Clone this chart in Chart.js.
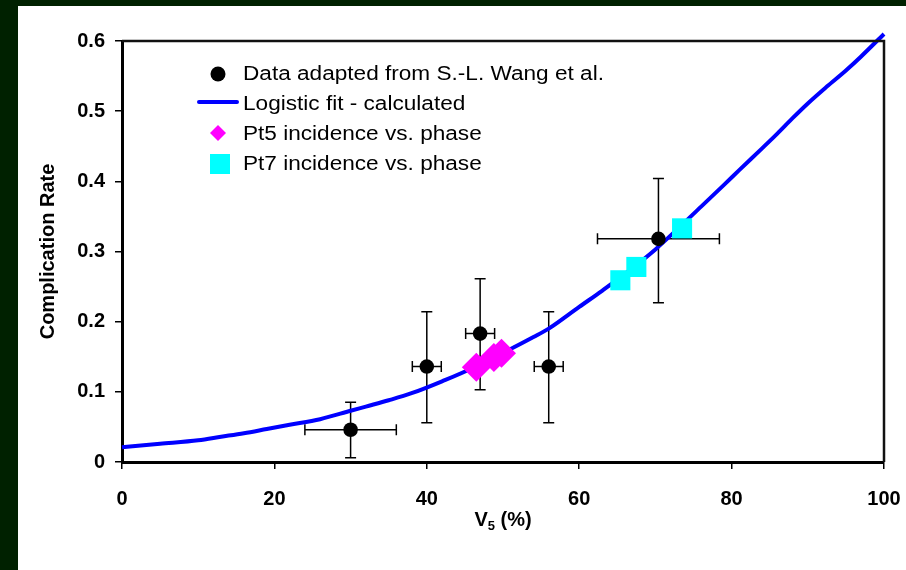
<!DOCTYPE html>
<html><head><meta charset="utf-8">
<script src="https://cdn.jsdelivr.net/npm/chart.js@4/dist/chart.umd.min.js"></script>
<style>html,body{margin:0;padding:0;background:#002100;overflow:hidden}</style>
</head><body>
<canvas id="c" width="906" height="570" style="display:block;width:906px;height:570px"></canvas>
<script>
// Logistic fit curve
const fitX = [0, 5, 10, 13, 16, 19, 22, 26, 30, 32, 35, 38, 42, 46, 48, 51, 54, 56, 60, 63, 66, 70, 73, 76, 79, 81, 84, 86, 88, 90, 92.5, 95, 97, 100];
const fitY = [0.021, 0.026, 0.031, 0.036, 0.041, 0.047, 0.053, 0.061, 0.073, 0.079, 0.088, 0.098, 0.115, 0.134, 0.146, 0.161, 0.178, 0.190, 0.221, 0.244, 0.268, 0.303, 0.333, 0.364, 0.395, 0.416, 0.447, 0.468, 0.490, 0.511, 0.535, 0.558, 0.578, 0.610];
// Data adapted from S.-L. Wang et al.
const dataX = [30, 40, 47, 56, 70.4];
const dataY = [0.046, 0.136, 0.183, 0.136, 0.318];
const dataXErr = [6, 1.9, 1.9, 1.9, 8];
const dataYErrPlus = [0.039, 0.078, 0.078, 0.078, 0.086];
const dataYErrMinus = [0.040, 0.080, 0.080, 0.080, 0.091];
// Pt5 incidence vs. phase
const pt5X = [46.5, 48.8, 49.8];
const pt5Y = [0.135, 0.149, 0.155];
// Pt7 incidence vs. phase
const pt7X = [65.4, 67.5, 73.5];
const pt7Y = [0.259, 0.278, 0.333];
// Axis ticks
const xTicks = [0, 20, 40, 60, 80, 100];
const yTicks = [0, 0.1, 0.2, 0.3, 0.4, 0.5, 0.6];
const legendLabels = ['Data adapted from S.-L. Wang et al.', 'Logistic fit - calculated', 'Pt5 incidence vs. phase', 'Pt7 incidence vs. phase'];
const yTitle = 'Complication Rate';

const pts = (xs, ys) => xs.map((x, i) => ({x: x, y: ys[i]}));

const bgPlugin = {
  id: 'bg',
  beforeDraw(chart) {
    const ctx = chart.ctx;
    ctx.save();
    ctx.fillStyle = '#002100';
    ctx.fillRect(0, 0, chart.width, chart.height);
    ctx.fillStyle = '#ffffff';
    ctx.fillRect(18, 6, chart.width - 18, chart.height - 6);
    ctx.restore();
  }
};

const errPlugin = {
  id: 'err',
  beforeDatasetsDraw(chart) {
    const ctx = chart.ctx, xs = chart.scales.x, ys = chart.scales.y;
    ctx.save();
    ctx.strokeStyle = '#000';
    ctx.lineWidth = 1.5;
    const cap = 5.5;
    dataX.forEach((x, i) => {
      const px = xs.getPixelForValue(x), py = ys.getPixelForValue(dataY[i]);
      const x1 = xs.getPixelForValue(x - dataXErr[i]), x2 = xs.getPixelForValue(x + dataXErr[i]);
      const y1 = ys.getPixelForValue(dataY[i] + dataYErrPlus[i]), y2 = ys.getPixelForValue(dataY[i] - dataYErrMinus[i]);
      ctx.beginPath();
      ctx.moveTo(x1, py); ctx.lineTo(x2, py);
      ctx.moveTo(x1, py - cap); ctx.lineTo(x1, py + cap);
      ctx.moveTo(x2, py - cap); ctx.lineTo(x2, py + cap);
      ctx.moveTo(px, y1); ctx.lineTo(px, y2);
      ctx.moveTo(px - cap, y1); ctx.lineTo(px + cap, y1);
      ctx.moveTo(px - cap, y2); ctx.lineTo(px + cap, y2);
      ctx.stroke();
    });
    ctx.restore();
  }
};

const decoPlugin = {
  id: 'deco',
  afterDraw(chart) {
    const ctx = chart.ctx, a = chart.chartArea;
    ctx.save();
    // top and right frame
    ctx.strokeStyle = '#111';
    ctx.lineWidth = 2.5;
    ctx.beginPath();
    ctx.moveTo(a.left, a.top); ctx.lineTo(a.right, a.top); ctx.lineTo(a.right, a.bottom);
    ctx.stroke();
    // legend
    const lx = a.left + 96, rows = [a.top + 33, a.top + 61, a.top + 92, a.top + 123];
    ctx.fillStyle = '#000';
    ctx.beginPath(); ctx.arc(lx, rows[0], 7.5, 0, Math.PI * 2); ctx.fill();
    ctx.strokeStyle = '#0000ff'; ctx.lineWidth = 4; ctx.lineCap = 'round';
    ctx.beginPath(); ctx.moveTo(lx - 19, rows[1]); ctx.lineTo(lx + 19, rows[1]); ctx.stroke();
    ctx.fillStyle = '#ff00ff';
    ctx.beginPath(); ctx.moveTo(lx, rows[2] - 8); ctx.lineTo(lx + 8, rows[2]); ctx.lineTo(lx, rows[2] + 8); ctx.lineTo(lx - 8, rows[2]); ctx.closePath(); ctx.fill();
    ctx.fillStyle = '#00ffff';
    ctx.fillRect(lx + 2 - 10, rows[3] - 10, 20, 20);
    ctx.fillStyle = '#000';
    ctx.font = '20px "Liberation Sans", Arial, sans-serif';
    ctx.textBaseline = 'alphabetic';
    ctx.textAlign = 'left';
    const textRows = [a.top + 39, a.top + 69, a.top + 99, a.top + 129];
    legendLabels.forEach((t, i) => {
      ctx.save();
      ctx.translate(a.left + 121, textRows[i]);
      ctx.scale(1.13, 1);
      ctx.fillText(t, 0, 0);
      ctx.restore();
    });
    // y title
    ctx.save();
    ctx.font = 'bold 20px "Liberation Sans", Arial, sans-serif';
    ctx.translate(48, (a.top + a.bottom) / 2);
    ctx.rotate(-Math.PI / 2);
    ctx.textAlign = 'center';
    ctx.textBaseline = 'middle';
    ctx.fillText(yTitle, 0, 0);
    ctx.restore();
    // x title with subscript
    const big = 'bold 20px "Liberation Sans", Arial, sans-serif';
    const small = 'bold 13px "Liberation Sans", Arial, sans-serif';
    ctx.font = big; const wV = ctx.measureText('V').width; const wRest = ctx.measureText(' (%)').width;
    ctx.font = small; const w5 = ctx.measureText('5').width;
    const total = wV + w5 + wRest;
    let x0 = (a.left + a.right) / 2 - total / 2;
    const by = 526;
    ctx.textAlign = 'left';
    ctx.font = big; ctx.fillText('V', x0, by); x0 += wV;
    ctx.font = small; ctx.fillText('5', x0, by + 4); x0 += w5;
    ctx.font = big; ctx.fillText(' (%)', x0, by);
    ctx.restore();
  }
};

new Chart(document.getElementById('c'), {
  type: 'scatter',
  data: {
    datasets: [
      {label: legendLabels[3], data: pts(pt7X, pt7Y), pointStyle: 'rect', pointRadius: 14.2, pointBackgroundColor: '#00ffff', pointBorderWidth: 0, showLine: false, order: 1},
      {label: legendLabels[2], data: pts(pt5X, pt5Y), pointStyle: 'rectRot', pointRadius: 14.5, pointBackgroundColor: '#ff00ff', pointBorderWidth: 0, showLine: false, order: 2},
      {label: legendLabels[0], data: pts(dataX, dataY), pointStyle: 'circle', pointRadius: 7.3, pointBackgroundColor: '#000', pointBorderWidth: 0, showLine: false, order: 3},
      {label: legendLabels[1], data: pts(fitX, fitY), showLine: true, pointRadius: 0, borderColor: '#0000ff', borderWidth: 4, cubicInterpolationMode: 'monotone', fill: false, order: 4, clip: false}
    ]
  },
  options: {
    responsive: false,
    devicePixelRatio: 1,
    animation: false,
    layout: {padding: {top: 41, right: 22, left: 0, bottom: 0}},
    plugins: {legend: {display: false}, tooltip: {enabled: false}},
    scales: {
      x: {
        type: 'linear', min: 0, max: 100,
        afterBuildTicks: s => { s.ticks = xTicks.map(v => ({value: v})); },
        afterFit: s => { s.height = 108; s.paddingLeft = 0; s.paddingRight = 0; },
        ticks: {color: '#000', font: {family: '"Liberation Sans", Arial, sans-serif', size: 20, weight: 'bold'}, padding: 18, maxRotation: 0},
        grid: {drawOnChartArea: false, drawTicks: true, tickLength: 7, color: '#000', lineWidth: 1.5},
        border: {display: true, color: '#000', width: 3}
      },
      y: {
        type: 'linear', min: 0, max: 0.6,
        afterBuildTicks: s => { s.ticks = yTicks.map(v => ({value: v})); },
        afterFit: s => { s.width = 122; s.paddingTop = 0; s.paddingBottom = 0; },
        ticks: {color: '#000', font: {family: '"Liberation Sans", Arial, sans-serif', size: 20, weight: 'bold'}, padding: 10,
          callback: v => v === 0 ? '0' : Number(v).toFixed(1)},
        grid: {drawOnChartArea: false, drawTicks: true, tickLength: 7, color: '#000', lineWidth: 1.5},
        border: {display: true, color: '#000', width: 3}
      }
    }
  },
  plugins: [bgPlugin, errPlugin, decoPlugin]
});
</script>
</body></html>
